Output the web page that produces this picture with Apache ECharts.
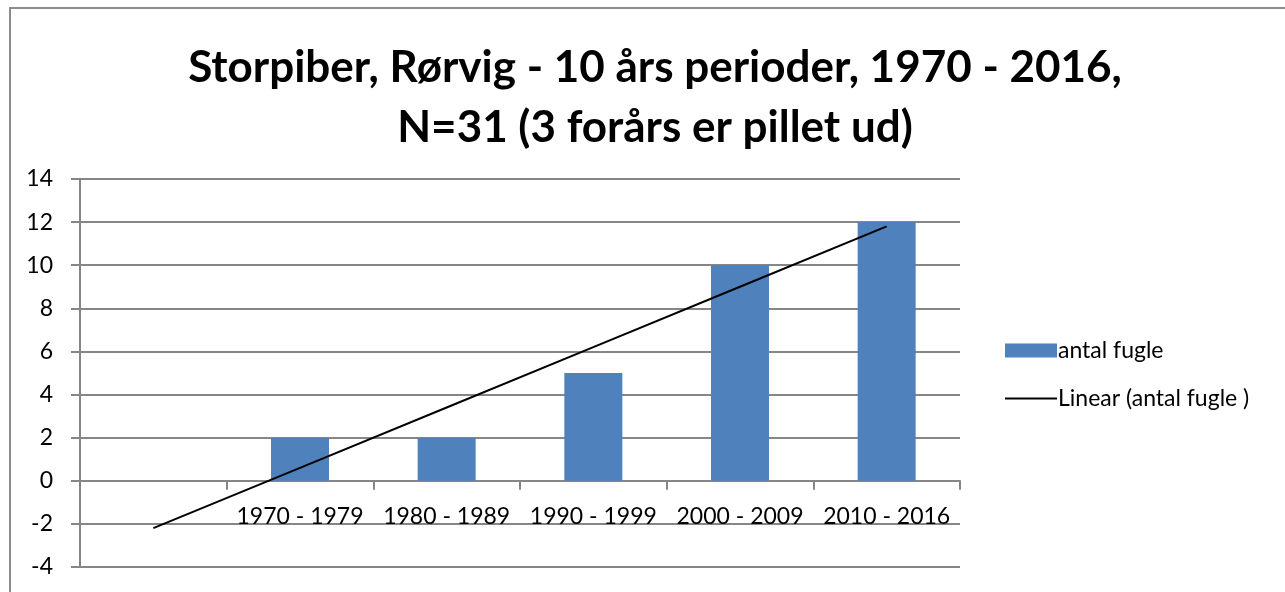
<!DOCTYPE html>
<html>
<head>
<meta charset="utf-8">
<script src="https://cdn.jsdelivr.net/npm/echarts@6/dist/echarts.min.js"></script>
<style>
    html, body {margin: 0; padding: 0; background: #fff;}
    #main {width: 1285px; height: 592px;}
</style>
</head>
<body>
<div id="main"></div>
<script>
// perioder (første kategori er tom i regnearket)
const categories = ['', '1970 - 1979', '1980 - 1989', '1990 - 1999', '2000 - 2009', '2010 - 2016'];
const antalFugle = ['-', 2, 2, 5, 10, 12];
// trendlinje
const linearValues = [-2.2, 0.6, 3.4, 6.2, 9.0, 11.8];
const yTicks = {min: -4, max: 14, interval: 2};

const font = 'Lato, "Open Sans", sans-serif';
const gray = '#868686';

let myChart = echarts.init(document.getElementById('main'));
myChart.setOption({
    animation: false,
    textStyle: {fontFamily: font},
    title: {
        text: 'Storpiber, Rørvig - 10 års perioder, 1970 - 2016,\nN=31 (3 forårs er pillet ud)',
        left: 650,
        top: 33,
        textAlign: 'center',
        textStyle: {fontFamily: font, fontSize: 44, fontWeight: 'bold', color: '#000', lineHeight: 60}
    },
    graphic: [{
        type: 'rect',
        z: -10,
        shape: {x: 10, y: 8, width: 1300, height: 620},
        style: {fill: 'none', stroke: '#8c8c8c', lineWidth: 2}
    }],
    legend: [{
        data: ['antal fugle'],
        left: 1000,
        top: 334,
        icon: 'rect',
        itemWidth: 52,
        itemHeight: 14,
        textStyle: {fontFamily: font, fontSize: 23, color: '#000', padding: [0, 0, 0, -4]}
    }, {
        data: ['Linear (antal fugle )'],
        left: 1000,
        top: 382,
        icon: 'rect',
        itemWidth: 52,
        itemHeight: 2,
        textStyle: {fontFamily: font, fontSize: 23, color: '#000', padding: [0, 0, 0, -4]}
    }],
    grid: {left: 80, right: 325, top: 179, bottom: 25, containLabel: false, outerBoundsMode: 'none'},
    xAxis: {
        type: 'category',
        data: categories,
        axisLine: {onZero: true, lineStyle: {color: gray, width: 2}},
        axisTick: {show: true, length: 9, interval: 0, lineStyle: {color: gray, width: 2}},
        // etiketterne ligger mellem 0 og -2 som i Excel
        axisLabel: {interval: 0, margin: -62, color: '#000', fontSize: 23, fontFamily: font}
    },
    yAxis: {
        type: 'value',
        min: yTicks.min,
        max: yTicks.max,
        interval: yTicks.interval,
        axisLine: {show: true, lineStyle: {color: gray, width: 2}},
        axisTick: {show: true, length: 9, lineStyle: {color: gray, width: 2}},
        axisLabel: {margin: 27, color: '#000', fontSize: 23, fontFamily: font},
        splitLine: {lineStyle: {color: gray, width: 2}}
    },
    series: [{
        name: 'antal fugle',
        type: 'bar',
        data: antalFugle,
        barWidth: 58,
        itemStyle: {color: '#4F81BD'}
    }, {
        name: 'Linear (antal fugle )',
        type: 'line',
        data: linearValues,
        symbol: 'none',
        z: 5,
        lineStyle: {color: '#000', width: 2},
        itemStyle: {color: '#000'}
    }]
});
</script>
</body>
</html>
